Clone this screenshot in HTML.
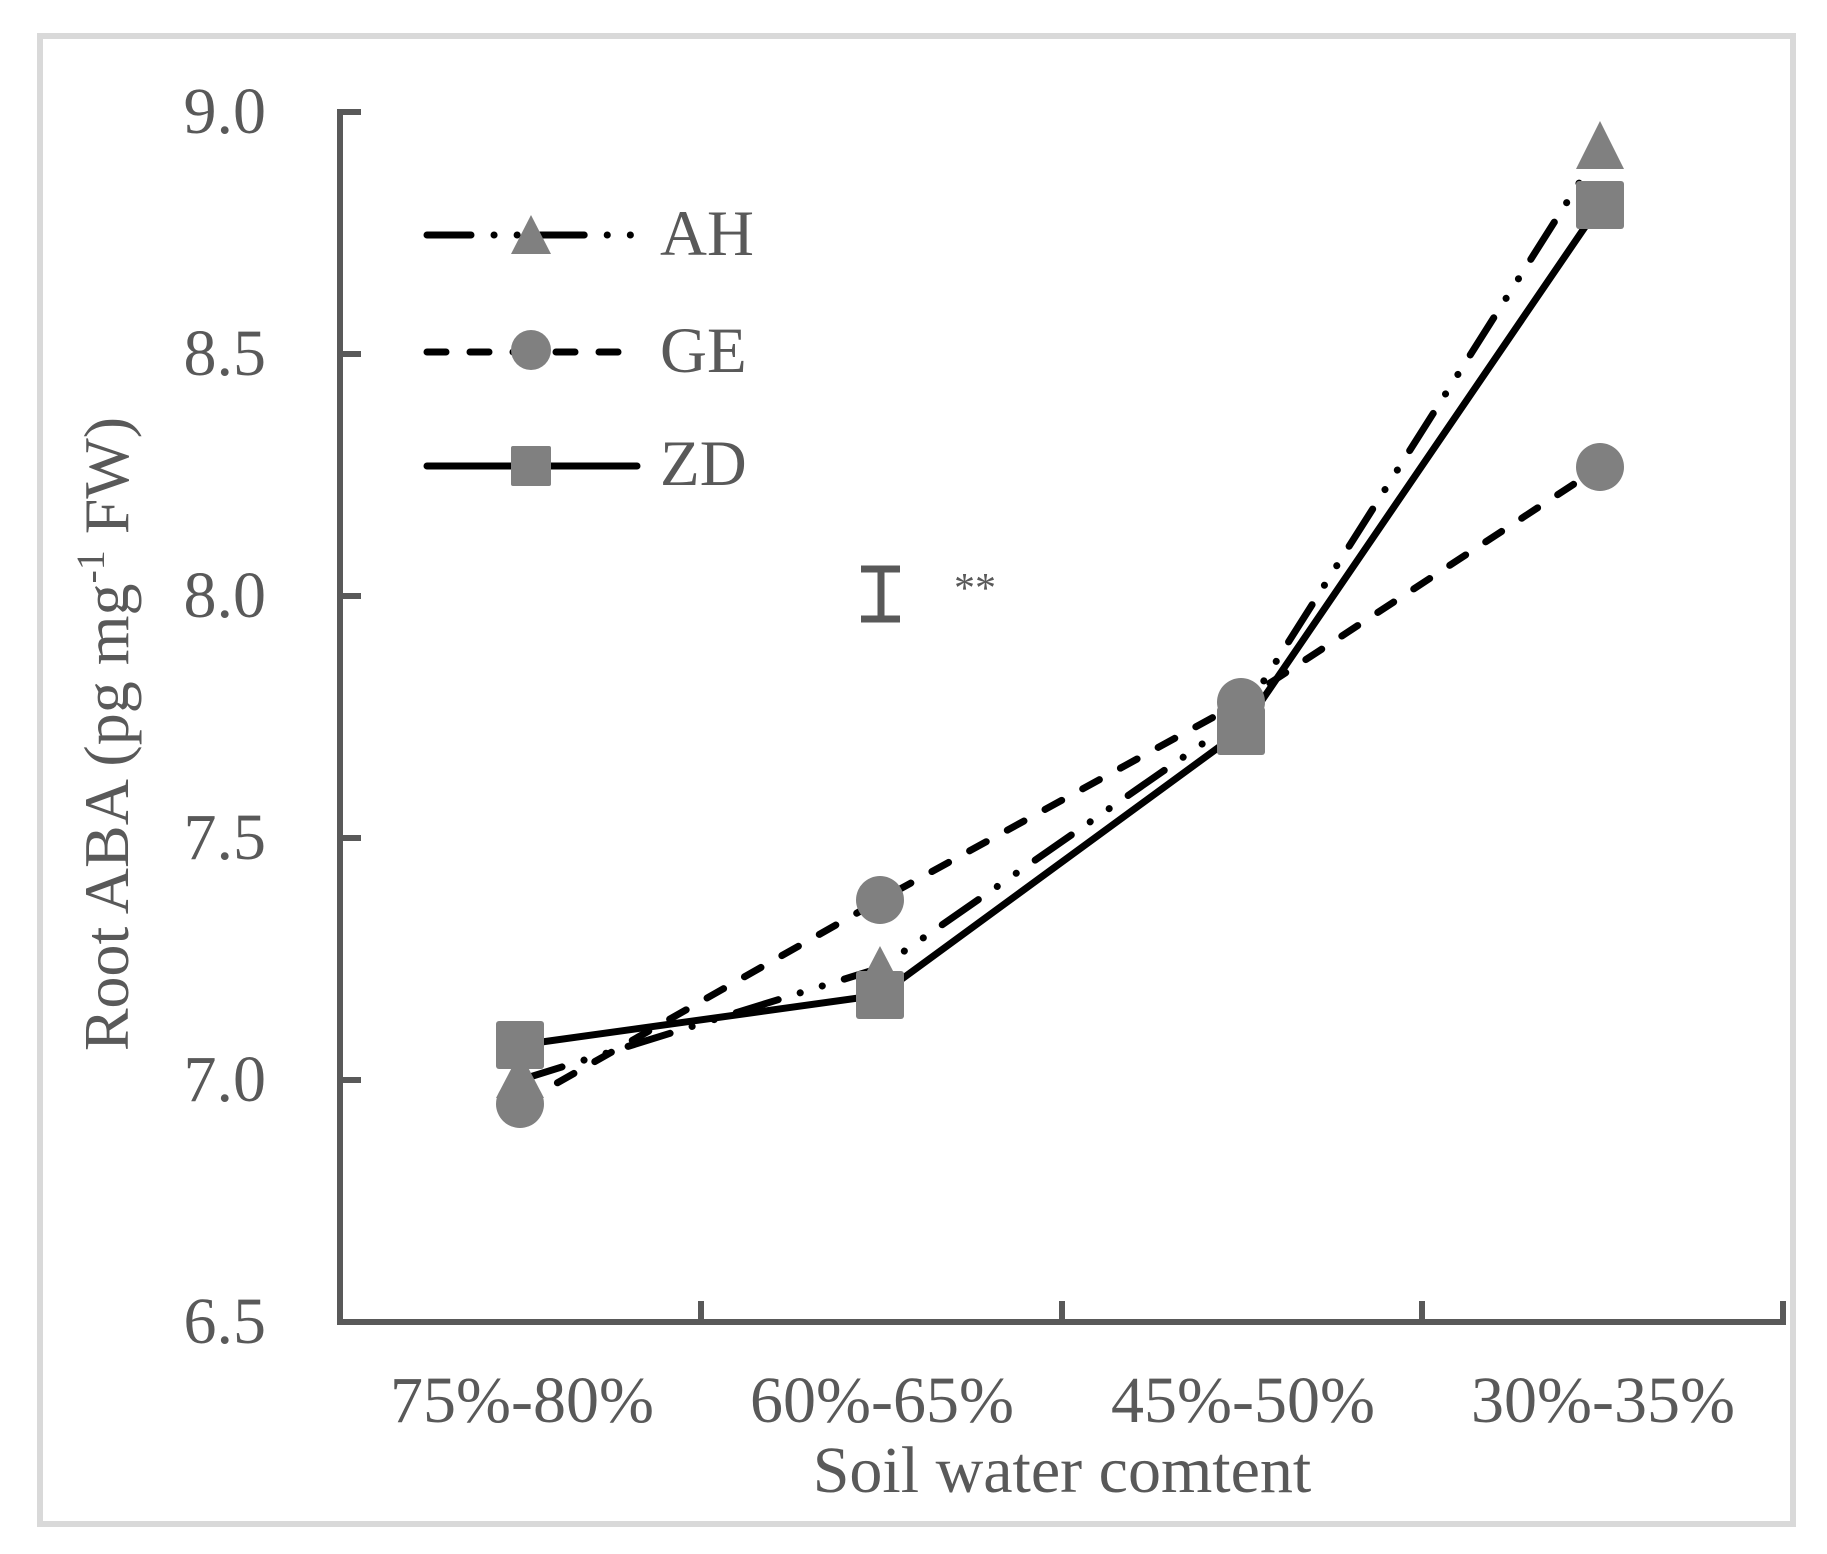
<!DOCTYPE html>
<html><head><meta charset="utf-8"><style>
html,body{margin:0;padding:0;background:#fff;}
svg{display:block;}
text{font-family:"Liberation Serif",serif;fill:#595959;}
</style></head><body>
<svg width="1827" height="1554" viewBox="0 0 1827 1554" xmlns="http://www.w3.org/2000/svg">
<rect x="0" y="0" width="1827" height="1554" fill="#fff"/>
<rect x="40" y="36" width="1753" height="1488" fill="none" stroke="#d9d9d9" stroke-width="6"/>
<g stroke="#595959" stroke-width="6" fill="none">
<line x1="340" y1="109" x2="340" y2="1325"/>
<line x1="337" y1="1322" x2="1786" y2="1322"/>
<line x1="340" y1="112" x2="361" y2="112"/>
<line x1="340" y1="354" x2="361" y2="354"/>
<line x1="340" y1="596" x2="361" y2="596"/>
<line x1="340" y1="838" x2="361" y2="838"/>
<line x1="340" y1="1080" x2="361" y2="1080"/>
<line x1="701" y1="1322" x2="701" y2="1301"/>
<line x1="1062" y1="1322" x2="1062" y2="1301"/>
<line x1="1422" y1="1322" x2="1422" y2="1301"/>
<line x1="1783" y1="1322" x2="1783" y2="1301"/>
</g>
<g font-size="66" text-anchor="end">
<text x="266" y="133">9.0</text>
<text x="266" y="375">8.5</text>
<text x="266" y="617">8.0</text>
<text x="266" y="859">7.5</text>
<text x="266" y="1101">7.0</text>
<text x="266" y="1343">6.5</text>
</g>
<g font-size="66" text-anchor="middle">
<text x="522" y="1422">75%-80%</text>
<text x="882" y="1422">60%-65%</text>
<text x="1243" y="1422">45%-50%</text>
<text x="1603" y="1422">30%-35%</text>
<text x="1062" y="1492">Soil water comtent</text>
</g>
<text transform="translate(128,734) rotate(-90)" font-size="64" text-anchor="middle">Root ABA (pg mg<tspan font-size="40" dy="-24">-1</tspan><tspan dy="24"> FW)</tspan></text>
<g fill="none" stroke="#000" stroke-width="7" stroke-linecap="round">
<polyline points="520,1080 880,968 1241,717 1600,150" stroke-dasharray="44 23 0.1 23 0.1 23"/>
<polyline points="520,1104 880,900 1241,702 1600,467" stroke-dasharray="19 24"/>
<polyline points="520,1045 880,995 1241,731 1600,205"/>
</g>
<g fill="#808080">
<path d="M520,1052 L544,1098 L496,1098 Z"/>
<path d="M880,946 L904,992 L856,992 Z"/>
<path d="M1241,695 L1265,741 L1217,741 Z"/>
<path d="M1600,121 L1624,169 L1576,169 Z"/>
<circle cx="520" cy="1104" r="24"/>
<circle cx="880" cy="900" r="24"/>
<circle cx="1241" cy="702" r="24"/>
<circle cx="1600" cy="467" r="24"/>
<rect x="496" y="1021" width="48" height="48" rx="3"/>
<rect x="856" y="971" width="48" height="48" rx="3"/>
<rect x="1217" y="707" width="48" height="48" rx="3"/>
<rect x="1576" y="181" width="48" height="48" rx="3"/>
</g>
<g fill="none" stroke="#000" stroke-width="7" stroke-linecap="round">
<line x1="427" y1="235" x2="637" y2="235" stroke-dasharray="44 23 0.1 23 0.1 23"/>
<line x1="427" y1="352" x2="637" y2="352" stroke-dasharray="19 24"/>
<line x1="427" y1="466" x2="637" y2="466"/>
</g>
<g fill="#808080">
<path d="M531,215 L551,254 L511,254 Z"/>
<circle cx="531" cy="350" r="20"/>
<rect x="511" y="446" width="40" height="40" rx="2"/>
</g>
<g font-size="65">
<text x="660" y="255">AH</text>
<text x="660" y="372">GE</text>
<text x="660" y="485">ZD</text>
</g>
<g stroke="#595959" stroke-width="7" fill="none">
<line x1="881" y1="566" x2="881" y2="622"/>
<line x1="861" y1="569" x2="900" y2="569"/>
<line x1="861" y1="619" x2="900" y2="619"/>
</g>
<text x="954" y="602" font-size="42" fill="#595959">**</text>
</svg>
</body></html>
